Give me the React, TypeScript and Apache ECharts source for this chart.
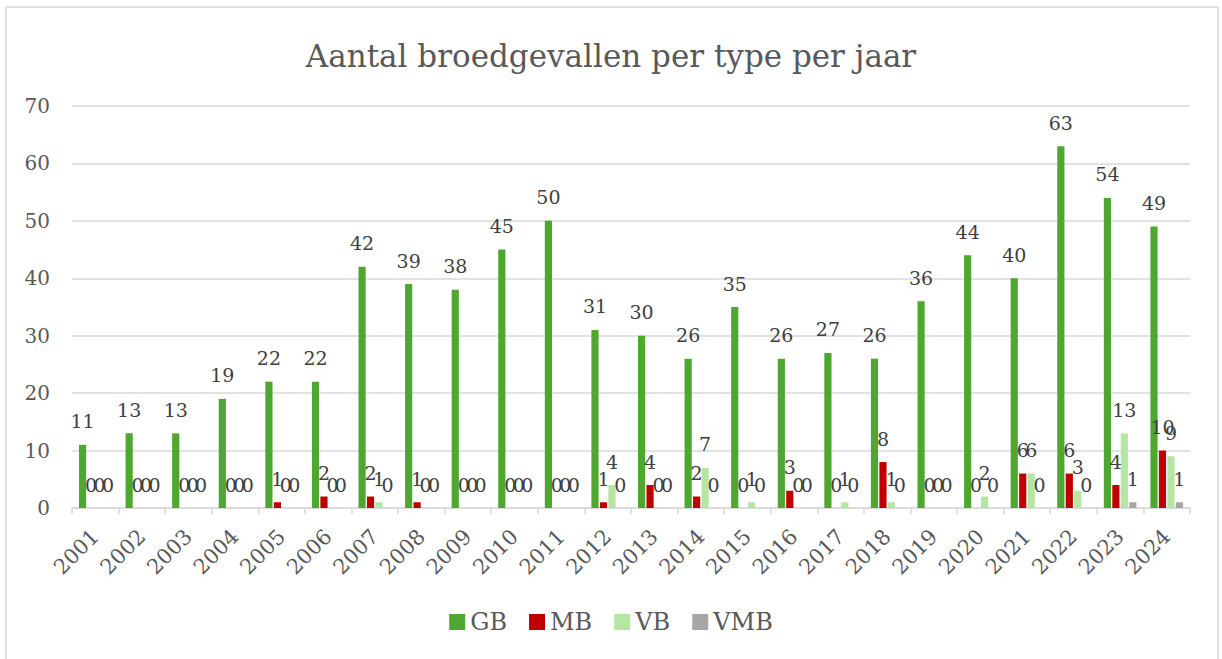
import React, { useEffect, useRef } from "react";
import * as echarts from "echarts";

const years = ["2001","2002","2003","2004","2005","2006","2007","2008","2009","2010","2011","2012","2013","2014","2015","2016","2017","2018","2019","2020","2021","2022","2023","2024"];
const gb = [11,13,13,19,22,22,42,39,38,45,50,31,30,26,35,26,27,26,36,44,40,63,54,49];
const mb = [0,0,0,0,1,2,2,1,0,0,0,1,4,2,0,3,0,8,0,0,6,6,4,10];
const vb = [0,0,0,0,0,0,1,0,0,0,0,4,0,7,1,0,1,1,0,2,6,3,13,9];
const vmb = [0,0,0,0,0,0,0,0,0,0,0,0,0,0,0,0,0,0,0,0,0,0,1,1];

const seriesNames = ["GB", "MB", "VB", "VMB"];
const seriesData = [gb, mb, vb, vmb];
const seriesColors = ["#4EA72E", "#C00000", "#B5E6A2", "#A6A6A6"];

const FONT = "DejaVu Serif";
const TEXT = "#595959";

export default function App() {
  const ref = useRef<HTMLDivElement>(null);
  useEffect(() => {
    if (!ref.current) return;
    const chart = echarts.init(ref.current, null, { renderer: "svg" });
    chart.setOption({
      animation: false,
      backgroundColor: "#ffffff",
      textStyle: { fontFamily: FONT, color: TEXT },
      title: {
        text: "Aantal broedgevallen per type per jaar",
        left: "center",
        top: 35,
        textStyle: { fontFamily: FONT, fontSize: 31, fontWeight: "normal", color: TEXT },
      },
      graphic: [
        {
          type: "rect",
          shape: { x: 6, y: 7, width: 1212, height: 670 },
          style: { fill: "none", stroke: "#D9D9D9", lineWidth: 1.5 },
          silent: true,
        },
      ],
      legend: {
        bottom: 20,
        left: "center",
        itemWidth: 16,
        itemHeight: 16,
        itemGap: 22,
        icon: "rect",
        textStyle: { fontFamily: FONT, fontSize: 24, color: TEXT },
        data: seriesNames,
      },
      grid: { left: 72, right: 32, top: 106, bottom: 151, outerBoundsMode: "none" },
      xAxis: {
        type: "category",
        data: years,
        axisLine: { lineStyle: { color: "#D9D9D9", width: 1.5 } },
        axisTick: { show: true, length: 6, lineStyle: { color: "#D9D9D9", width: 1.5 } },
        axisLabel: { rotate: 45, margin: 25, fontFamily: FONT, fontSize: 21, color: TEXT, interval: 0 },
      },
      yAxis: {
        type: "value",
        min: 0,
        max: 70,
        interval: 10,
        axisLine: { show: false },
        axisTick: { show: false },
        splitLine: { lineStyle: { color: "#D9D9D9", width: 1.5 } },
        axisLabel: { margin: 22, fontFamily: FONT, fontSize: 20, color: TEXT },
      },
      series: seriesNames.map((name, i) => ({
        name,
        type: "bar",
        data: seriesData[i],
        itemStyle: { color: seriesColors[i] },
        barCategoryGap: "30%",
        barGap: "18%",
        label: {
          show: true,
          position: "top",
          distance: 14,
          fontFamily: FONT,
          fontSize: 19,
          color: "#404040",
        },
      })),
    });
    return () => chart.dispose();
  }, []);
  return (
    <div
      ref={ref}
      style={{ position: "fixed", left: 0, top: 0, width: 1222, height: 659, background: "#fff" }}
    />
  );
}
